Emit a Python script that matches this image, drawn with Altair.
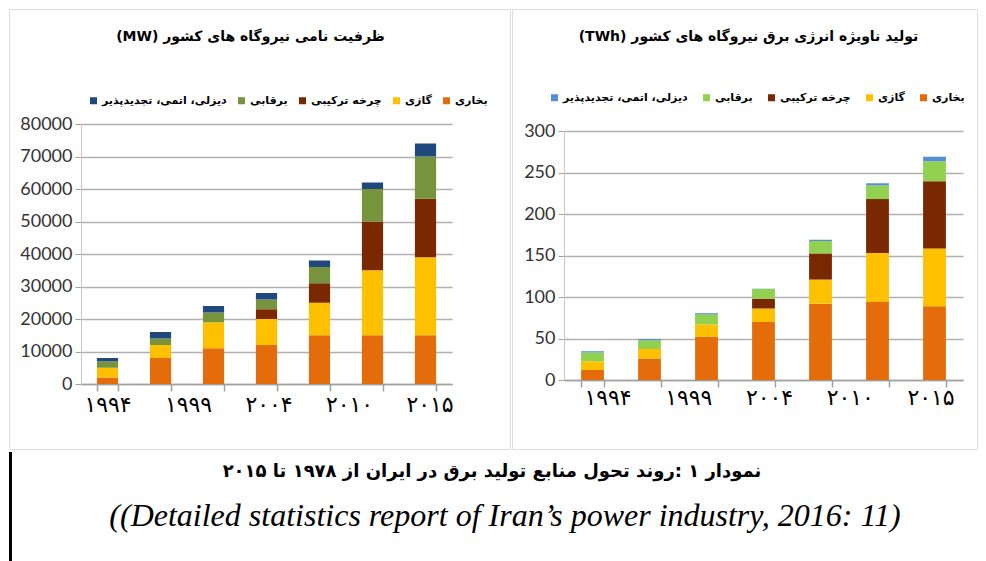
import altair as alt
import pandas as pd

bars = ["b1", "b2", "b3", "b4", "b5", "b6", "b7"]
year_labels = ["۱۹۹۴", "۱۹۹۹", "۲۰۰۴", "۲۰۱۰", "۲۰۱۵"]
sources = ["بخاری", "گازی", "چرخه ترکیبی", "برقابی", "دیزلی، اتمی، تجدیدپذیر"]

# Capacity (MW)
cap_steam = [2000, 8000, 11000, 12000, 15000, 15000, 15000]
cap_gas = [3000, 4000, 8000, 8000, 10000, 20000, 24000]
cap_cc = [0, 0, 0, 3000, 6000, 15000, 18000]
cap_hydro = [2000, 2000, 3000, 3000, 5000, 10000, 13000]
cap_other = [1000, 2000, 2000, 2000, 2000, 2000, 4000]

# Gross generation (TWh)
gen_steam = [12, 26, 52, 70, 92, 94, 89]
gen_gas = [10.5, 11.5, 15, 16, 29, 59, 69.5]
gen_cc = [0, 0, 0, 12, 31.5, 65, 81]
gen_hydro = [10.5, 10.5, 12, 11.5, 15, 16.5, 24]
gen_other = [1.5, 1.5, 1.5, 0.5, 1.5, 2.5, 5.5]

colors_left = ["#E46C0A", "#FFC000", "#7A2800", "#77933C", "#1F497D"]
colors_right = ["#E46C0A", "#FFC000", "#7A2800", "#92D050", "#558ED5"]

title_left = "(MW) ظرفیت نامی نیروگاه های کشور"
title_right = "(TWh) تولید ناویژه انرژی برق نیروگاه های کشور"
caption_fa = "نمودار ۱ :روند تحول منابع تولید برق در ایران از ۱۹۷۸ تا ۲۰۱۵"
caption_en = "((Detailed statistics report of Iran’s power industry, 2016: 11)"

GRID = "#B0B0B0"
AXIS = "#A0A0A0"


def make_df(series):
    rows = []
    for si, (s, vals) in enumerate(zip(sources, series)):
        for b, v in zip(bars, vals):
            rows.append({"bar": b, "source": s, "value": v, "order": si})
    return pd.DataFrame(rows)


def panel(df, colors, ymax, ystep, title, W, H, xr, yr, lab_range, lab_y,
          leg_x, leg_y, title_dx, col_pad):
    bar_layer = alt.Chart(df).mark_bar().encode(
        x=alt.X("bar:N", sort=bars, title=None,
                scale=alt.Scale(range=xr, paddingInner=0.6, paddingOuter=0.3),
                axis=alt.Axis(labels=False, tickBand="extent", tickSize=7,
                              tickColor=AXIS, tickWidth=1.5, domainColor=AXIS,
                              domainWidth=1.5, offset=-(H - yr[0]),
                              orient="bottom", grid=False)),
        y=alt.Y("value:Q", stack="zero", title=None,
                scale=alt.Scale(domain=[0, ymax], range=yr, nice=False),
                axis=alt.Axis(values=list(range(0, ymax + 1, ystep)), format="d",
                              offset=-xr[0], grid=True, gridColor=GRID,
                              gridWidth=1.5, labelFont="Lato", labelFontSize=18,
                              labelColor="#333333", tickSize=6, tickColor=AXIS,
                              domainColor="#C8C8C8", labelPadding=3)),
        color=alt.Color("source:N",
                        scale=alt.Scale(domain=sources[::-1], range=colors[::-1]),
                        legend=alt.Legend(orient="none", legendX=leg_x, legendY=leg_y,
                                          direction="horizontal", title=None,
                                          symbolType="square", symbolSize=49,
                                          symbolStrokeWidth=0,
                                          labelFont="DejaVu Sans", labelFontWeight="bold",
                                          labelFontSize=11, labelColor="#000000",
                                          columnPadding=col_pad, labelOffset=3)),
        order=alt.Order("order:Q", sort="ascending"),
    )
    lab_layer = alt.Chart(pd.DataFrame({"label": year_labels})).mark_text(
        font="DejaVu Sans", fontSize=22, color="#000000", baseline="middle"
    ).encode(
        x=alt.X("label:N", sort=year_labels,
                scale=alt.Scale(type="point", range=lab_range, padding=0), axis=None),
        y=alt.value(lab_y),
        text="label:N",
    )
    return alt.layer(bar_layer, lab_layer).resolve_scale(x="independent").properties(
        width=W, height=H,
        title=alt.TitleParams(text=title, font="DejaVu Sans", fontSize=14,
                              fontWeight="bold", color="#000000", anchor="middle",
                              frame="group", offset=-35, dx=title_dx),
    )


left = panel(make_df([cap_steam, cap_gas, cap_cc, cap_hydro, cap_other]), colors_left,
             80000, 10000, title_left, 501, 440, [72, 443], [375, 115], [99, 421], 396,
             79, 86, -9, 9)
right = panel(make_df([gen_steam, gen_gas, gen_cc, gen_hydro, gen_other]), colors_right,
              300, 50, title_right, 465, 440, [52, 451], [371, 122], [96, 419], 389,
              37, 83, 4, 13)

CW, CH = 962, 100
cap_df = pd.DataFrame({"row": ["fa", "en"], "text": [caption_fa, caption_en]})
yscale = alt.Scale(type="point", domain=["fa", "en"], range=[20, 64], padding=0)
rule = alt.Chart(pd.DataFrame({"a": [0]})).mark_rule(color="#000000", strokeWidth=3).encode(
    x=alt.value(1.5), y=alt.value(0), y2=alt.value(CH + 10))
t_fa = alt.Chart(cap_df).transform_filter(alt.datum.row == "fa").mark_text(
    font="DejaVu Sans", fontSize=18, fontWeight="bold", color="#000000", baseline="middle"
).encode(x=alt.value(483), y=alt.Y("row:N", scale=yscale, axis=None), text="text:N")
t_en = alt.Chart(cap_df).transform_filter(alt.datum.row == "en").mark_text(
    font="Liberation Serif", fontSize=32, fontStyle="italic", color="#000000", baseline="middle"
).encode(x=alt.value(496), y=alt.Y("row:N", scale=yscale, axis=None), text="text:N")
caption = alt.layer(rule, t_fa, t_en).properties(
    width=CW, height=CH, view=alt.ViewBackground(strokeWidth=0))

chart = alt.vconcat(
    alt.hconcat(left, right, spacing=0).resolve_scale(color="independent"),
    caption, spacing=0,
).resolve_scale(color="independent").properties(
    padding={"left": 0, "top": 0, "right": 0, "bottom": 0}
).configure_view(stroke="#8C8C8C", strokeWidth=2.5).configure(background="#FFFFFF")

chart.save("out.html", embed_options={"renderer": "svg", "actions": False})
